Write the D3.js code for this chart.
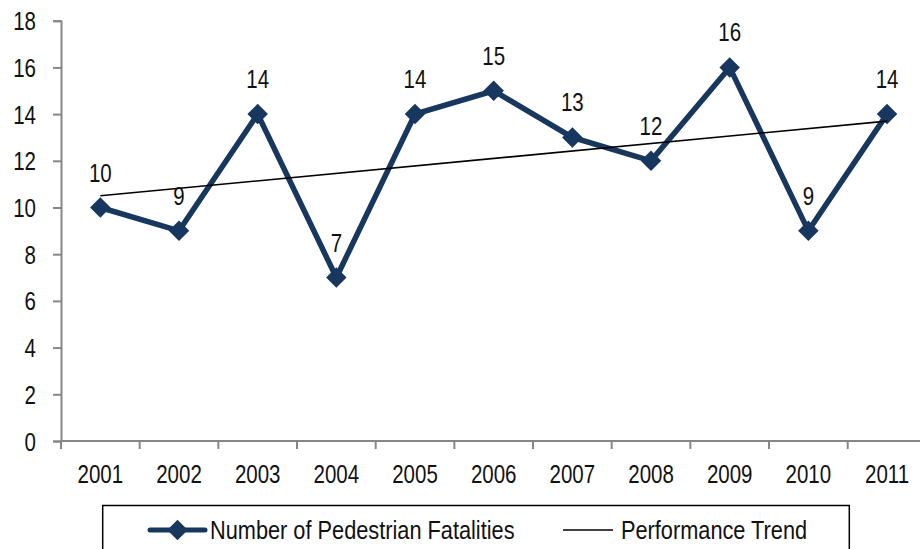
<!DOCTYPE html>
<html>
<head>
<meta charset="utf-8">
<script src="https://cdn.jsdelivr.net/npm/d3@7"></script>
<style>
  html, body { margin: 0; padding: 0; background: #fff; }
  svg { display: block; font-family: "Liberation Sans Narrow", "Arial Narrow", "Liberation Sans", sans-serif; }
</style>
</head>
<body>
<div id="chart"></div>
<script>
// data
const years = ["2001", "2002", "2003", "2004", "2005", "2006", "2007", "2008", "2009", "2010", "2011"];
const fatalities = [10, 9, 14, 7, 14, 15, 13, 12, 16, 9, 14];
// performance trend (linear), endpoint values at 2001 and 2011
const trendEnds = [10.5, 13.7];
const yTicks = [0, 2, 4, 6, 8, 10, 12, 14, 16, 18];
const seriesNames = ["Number of Pedestrian Fatalities", "Performance Trend"];

const width = 920, height = 549;
const navy = "#17375E";
const axisGrey = "#868686";
const ink = "#111";
const fs = 25;       // font size
const sx = 0.82;     // horizontal squeeze to mimic a narrow face (digits)
const sxLegend = 0.87;

const svg = d3.select("#chart").append("svg")
    .attr("width", width)
    .attr("height", height);

const x = d3.scaleBand()
    .domain(years)
    .range([61, 61 + 11 * 78.67])
    .padding(0);

const y = d3.scaleLinear()
    .domain([0, 18])
    .range([441, 20.7]);

const cx = d => x(d) + x.bandwidth() / 2;

// place a squeezed text label
function narrow(sel, px, py, s = sx) {
    return sel.attr("transform", (d, i) => `translate(${px(d, i)},${py(d, i)}) scale(${s},1)`)
        .attr("font-size", fs)
        .attr("fill", ink);
}

// y axis
const yAxis = svg.append("g")
    .attr("transform", "translate(61,0)")
    .call(d3.axisLeft(y).tickValues(yTicks).tickSize(8).tickPadding(0));
yAxis.select(".domain").attr("stroke", axisGrey).attr("stroke-width", 2);
yAxis.selectAll(".tick line").attr("stroke", axisGrey).attr("stroke-width", 2);
yAxis.selectAll(".tick text")
    .attr("x", -25 / sx)
    .attr("dy", "0.36em")
    .attr("font-family", "inherit")
    .attr("transform", `scale(${sx},1)`)
    .attr("font-size", fs)
    .attr("fill", ink);

// x axis: ticks sit between categories
const xAxis = svg.append("g")
    .attr("transform", "translate(0,441)");
xAxis.append("line")
    .attr("x1", x.range()[0]).attr("x2", x.range()[1])
    .attr("stroke", axisGrey).attr("stroke-width", 2);
xAxis.selectAll(".xt")
    .data(years)
    .join("line")
    .attr("class", "xt")
    .attr("x1", d => x(d)).attr("x2", d => x(d))
    .attr("y1", 0).attr("y2", 8)
    .attr("stroke", axisGrey).attr("stroke-width", 2);
xAxis.selectAll(".xl")
    .data(years)
    .join("text")
    .attr("class", "xl")
    .attr("text-anchor", "middle")
    .call(narrow, d => cx(d), () => 42)
    .text(d => d);

// series line
const pts = years.map((yr, i) => ({ yr, v: fatalities[i] }));
const line = d3.line().x(d => cx(d.yr)).y(d => y(d.v));

svg.append("path")
    .datum(pts)
    .attr("d", line)
    .attr("fill", "none")
    .attr("stroke", navy)
    .attr("stroke-width", 5.5)
    .attr("stroke-linejoin", "miter");

const diamond = d3.symbol().type(d3.symbolSquare).size(210);

svg.selectAll(".mk")
    .data(pts)
    .join("path")
    .attr("class", "mk")
    .attr("d", diamond)
    .attr("transform", d => `translate(${cx(d.yr)},${y(d.v)}) rotate(45)`)
    .attr("fill", navy);

// trend line
svg.append("line")
    .attr("x1", cx(years[0])).attr("y1", y(trendEnds[0]))
    .attr("x2", cx(years[years.length - 1])).attr("y2", y(trendEnds[1]))
    .attr("stroke", "#000")
    .attr("stroke-width", 1.6);

// data labels
svg.selectAll(".dl")
    .data(pts)
    .join("text")
    .attr("class", "dl")
    .attr("text-anchor", "middle")
    .call(narrow, d => cx(d.yr), d => y(d.v) - 26)
    .text(d => d.v);

// legend
const lg = svg.append("g");
lg.append("rect")
    .attr("x", 102.7).attr("y", 505.5)
    .attr("width", 746.6).attr("height", 60)
    .attr("fill", "none")
    .attr("stroke", "#000")
    .attr("stroke-width", 1.5);
lg.append("line")
    .attr("x1", 150).attr("x2", 205).attr("y1", 530).attr("y2", 530)
    .attr("stroke", navy).attr("stroke-width", 5).attr("stroke-linecap", "round");
lg.append("path")
    .attr("d", diamond)
    .attr("transform", "translate(177.5,530) rotate(45)")
    .attr("fill", navy);
lg.append("text")
    .datum(seriesNames[0])
    .call(narrow, () => 210, () => 539, sxLegend)
    .text(d => d);
lg.append("line")
    .attr("x1", 563).attr("x2", 613).attr("y1", 530).attr("y2", 530)
    .attr("stroke", "#000").attr("stroke-width", 1.6);
lg.append("text")
    .datum(seriesNames[1])
    .call(narrow, () => 621, () => 539, sxLegend)
    .text(d => d);
</script>
</body>
</html>
